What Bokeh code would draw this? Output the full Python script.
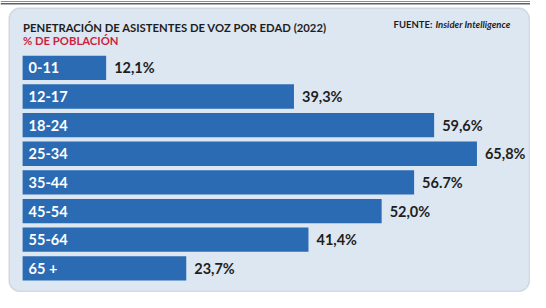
from bokeh.plotting import figure
from bokeh.models import Range1d, ColumnDataSource, Label, BoxAnnotation, Span
from bokeh.core.properties import value
from bokeh.embed import file_html
from bokeh.resources import INLINE

# ---- data ----
categories = ["0-11", "12-17", "18-24", "25-34", "35-44", "45-54", "55-64", "65 +"]
values = [12.1, 39.3, 59.6, 65.8, 56.7, 52.0, 41.4, 23.7]
value_labels = ["12,1%", "39,3%", "59,6%", "65,8%", "56.7%", "52,0%", "41,4%", "23,7%"]

title_text = "PENETRACIÓN DE ASISTENTES DE VOZ POR EDAD (2022)"
subtitle_text = "% DE POBLACIÓN"
source_label = "FUENTE:"
source_name = "Insider Intelligence"

# ---- layout (pixel geometry of the canvas) ----
W, H = 530, 292
PX_PER_UNIT = 6.905      # horizontal pixels per percentage point
BAR_LEFT_PX = 22.1       # where value 0 sits
ROW_PX = 28.63           # row pitch
FIRST_ROW_PX = 67.4      # centre of the first row

PANEL = "#dde7f2"
PANEL_LINE = "#9ea6b0"
BAR = "#2a6bb3"
DARK = "#1e1e1e"
RED = "#cf1f3f"
FONT = "Lato"


def px_x(px):
    return (px - BAR_LEFT_PX) / PX_PER_UNIT


def px_y(py):
    return (py - FIRST_ROW_PX) / ROW_PX


x_range = Range1d(px_x(0), px_x(W))
y_range = Range1d(px_y(H), px_y(0))

p = figure(width=W, height=H, x_range=x_range, y_range=y_range,
           output_backend="svg", toolbar_location=None,
           x_axis_location=None, y_axis_location=None, min_border=0)
p.grid.visible = False
p.background_fill_color = "white"
p.border_fill_color = "white"
p.outline_line_color = None

# rounded panel
p.add_layout(BoxAnnotation(left=px_x(8.5), right=px_x(529), top=px_y(7.5), bottom=px_y(291),
                           fill_color=PANEL, fill_alpha=1.0, line_color=PANEL_LINE,
                           line_width=1.5, border_radius=11, level="underlay"))
# double rule at the very top
p.add_layout(Span(location=px_y(1.0), dimension="width", line_color="#8a9099",
                  line_width=1.2, level="underlay"))
p.add_layout(Span(location=px_y(3.2), dimension="width", line_color="#5d636b",
                  line_width=1.4, level="underlay"))

idx = list(range(len(categories)))
src = ColumnDataSource(dict(y=idx, v=values, cat=categories, lab=value_labels,
                            zero=[0] * len(values)))

p.hbar(y="y", left=0, right="v", height=0.85, source=src,
       fill_color=BAR, line_color=None)

p.text(x="zero", y="y", text="cat", source=src, x_offset=6,
       text_color="white", text_font=value(FONT), text_font_style="bold",
       text_font_size="14.5px", text_baseline="middle", text_align="left")

p.text(x="v", y="y", text="lab", source=src, x_offset=8,
       text_color=DARK, text_font=value(FONT), text_font_style="bold",
       text_font_size="14.5px", text_baseline="middle", text_align="left")


def add_label(text, px, py, size, color, style="bold"):
    p.add_layout(Label(x=px_x(px), y=px_y(py), text=text,
                       text_font=FONT, text_font_size=size, text_color=color,
                       text_font_style=style, text_align="left",
                       text_baseline="alphabetic"))


add_label(title_text, 22.5, 26.5, "11.3px", DARK)
add_label(subtitle_text, 22.5, 39.5, "11.3px", RED)
add_label(source_label, 393, 23.9, "9.5px", DARK)
add_label(source_name, 435, 23.9, "9.5px", DARK, style="bold italic")

open("out.html", "w").write(file_html(p, INLINE))
